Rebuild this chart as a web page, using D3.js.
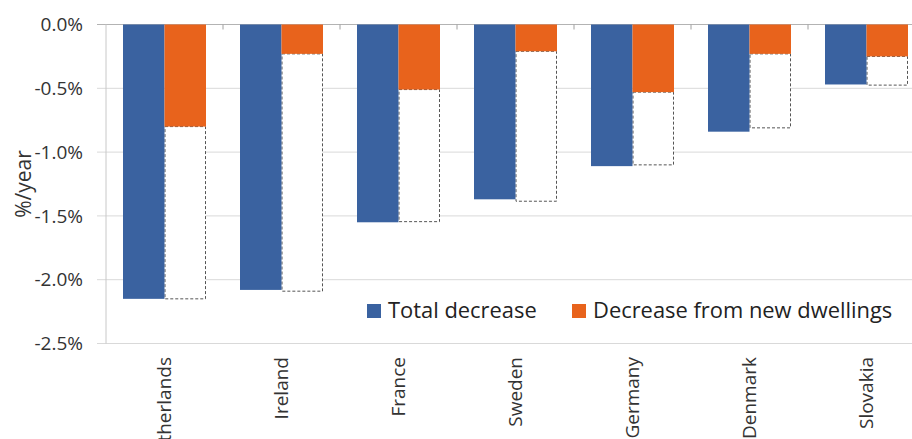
<!DOCTYPE html>
<html>
<head>
<meta charset="utf-8">
<script src="https://cdnjs.cloudflare.com/ajax/libs/d3/7.8.5/d3.min.js"></script>
<style>
  html, body { margin: 0; padding: 0; background: #fff; }
  svg { display: block; font-family: "Open Sans", sans-serif; }
</style>
</head>
<body>
<svg id="chart" width="912" height="439"></svg>
<script>
const categories = ["Netherlands", "Ireland", "France", "Sweden", "Germany", "Denmark", "Slovakia"];
const totalDecrease = [-2.15, -2.08, -1.55, -1.37, -1.11, -0.84, -0.47];
const newDwellings = [-0.80, -0.23, -0.51, -0.21, -0.53, -0.23, -0.25];
const outlineTotal = [-2.15, -2.09, -1.545, -1.385, -1.10, -0.81, -0.475];
const yTicks = [0, -0.5, -1.0, -1.5, -2.0, -2.5];
const seriesNames = ["Total decrease", "Decrease from new dwellings"];
const colors = ["#3A62A0", "#E8631C"];

const svg = d3.select("#chart");
const plotLeft = 106, plotTop = 24.5, plotBottom = 343.5, bandW = 117;

const y = d3.scaleLinear().domain([-2.5, 0]).range([plotBottom, plotTop]);
const x0 = d3.scaleBand().domain(categories).range([plotLeft, plotLeft + bandW * categories.length]).padding(0);
const x1 = d3.scaleBand().domain(["total", "new"]).range([17, x0.bandwidth() - 17]).padding(0);
const fmt = d => d3.formatLocale({decimal: ".", thousands: ",", grouping: [3], currency: ["", ""], minus: "-"}).format(".1f")(d) + "%";

// gridlines
svg.append("g").selectAll("line").data(yTicks).join("line")
  .attr("x1", plotLeft - 9).attr("x2", 912)
  .attr("y1", d => y(d)).attr("y2", d => y(d))
  .attr("stroke", d => d === 0 ? "#b3b3b3" : "#d9d9d9").attr("stroke-width", 1);

// left axis line
svg.append("line").attr("x1", plotLeft).attr("x2", plotLeft)
  .attr("y1", y(0)).attr("y2", y(-2.5)).attr("stroke", "#c8c8c8");

// y tick labels
svg.append("g").selectAll("text").data(yTicks).join("text")
  .attr("x", 83).attr("y", d => y(d)).attr("dy", "0.35em")
  .attr("text-anchor", "end").attr("font-size", 19).attr("fill", "#333")
  .text(fmt);

// y title
svg.append("text").attr("transform", `translate(24,${(plotTop + plotBottom) / 2}) rotate(-90)`)
  .attr("text-anchor", "middle").attr("dy", "0.35em")
  .attr("font-size", 21).attr("fill", "#333").text("%/year");

// category tick marks at zero line
svg.append("g").selectAll("line").data(categories).join("line")
  .attr("x1", d => x0(d) + x0.bandwidth()).attr("x2", d => x0(d) + x0.bandwidth())
  .attr("y1", y(0)).attr("y2", y(0) + 5).attr("stroke", "#a0a0a0");

const groups = svg.append("g").selectAll("g").data(categories).join("g")
  .attr("transform", d => `translate(${x0(d)},0)`);

// dashed outline boxes
groups.append("rect")
  .attr("x", x1("new") + 0.5)
  .attr("y", (d, i) => y(newDwellings[i]))
  .attr("width", x1.bandwidth() - 1)
  .attr("height", (d, i) => y(outlineTotal[i]) - y(newDwellings[i]))
  .attr("fill", "#fff").attr("stroke", "#555").attr("stroke-width", 1)
  .attr("stroke-dasharray", "3,2");

// total bars
groups.append("rect")
  .attr("x", x1("total")).attr("y", y(0))
  .attr("width", x1.bandwidth())
  .attr("height", (d, i) => y(totalDecrease[i]) - y(0))
  .attr("fill", colors[0]);

// new dwellings bars
groups.append("rect")
  .attr("x", x1("new")).attr("y", y(0))
  .attr("width", x1.bandwidth())
  .attr("height", (d, i) => y(newDwellings[i]) - y(0))
  .attr("fill", colors[1]);

// category labels
svg.append("g").selectAll("text").data(categories).join("text")
  .attr("transform", d => `translate(${x0(d) + x0.bandwidth() / 2},357) rotate(-90)`)
  .attr("text-anchor", "end").attr("dy", "0.35em")
  .attr("font-size", 19).attr("fill", "#333").text(d => d);

// legend
const legendX = [367, 572];
const lg = svg.append("g").selectAll("g").data(seriesNames).join("g")
  .attr("transform", (d, i) => `translate(${legendX[i]},304)`);
lg.append("rect").attr("width", 14).attr("height", 14).attr("fill", (d, i) => colors[i]);
lg.append("text").attr("x", 21).attr("y", 14).attr("font-size", 21.9).attr("fill", "#222").text(d => d);
</script>
</body>
</html>
